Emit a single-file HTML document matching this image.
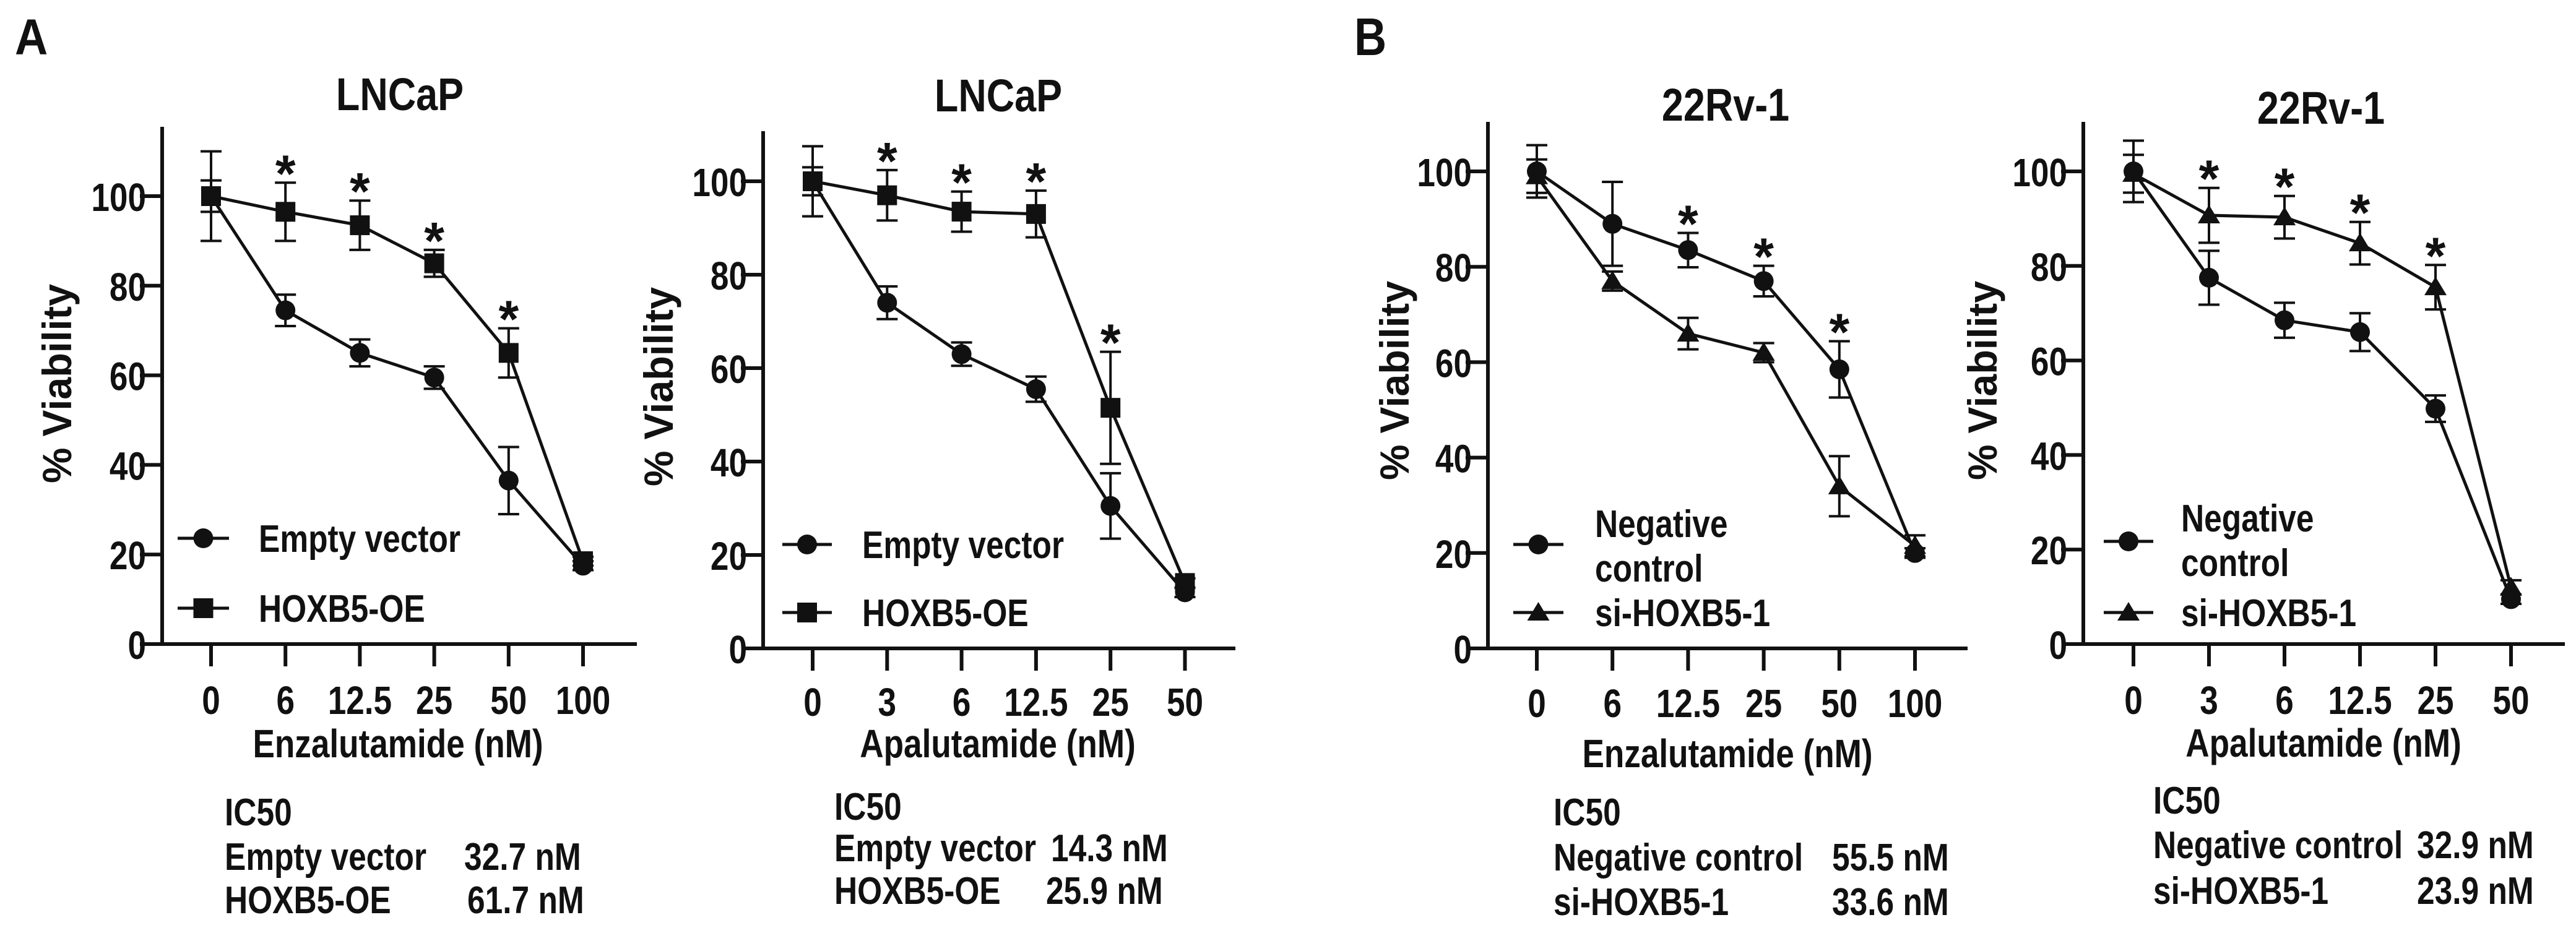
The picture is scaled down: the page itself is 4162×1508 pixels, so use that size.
<!DOCTYPE html>
<html><head><meta charset="utf-8"><style>
html,body{margin:0;padding:0;background:#fff;}
svg{display:block;}
text{font-family:"Liberation Sans",Arial,sans-serif;font-weight:bold;fill:#111;}
</style></head><body>
<svg id="fig" width="4162" height="1508" viewBox="0 0 4162 1508" xmlns="http://www.w3.org/2000/svg"></svg>
<script>
// ---- data ----
const p1Cats = ["0","6","12.5","25","50","100"];
const p1EV = [100,74.5,65,59.5,36.5,17.5];
const p1EVerr = [10,3.5,3,2.5,7.5,1];
const p1OE = [100,96.5,93.5,85,65,18.5];
const p1OEerr = [3.5,6.5,5.5,3,5.5,1];
const p1Stars = [false,true,true,true,true,false];

const p2Cats = ["0","3","6","12.5","25","50"];
const p2EV = [100,74,63,55.5,30.5,12];
const p2EVerr = [7.5,3.5,2.5,2.7,7,1];
const p2OE = [100,97,93.5,93,51.5,14];
const p2OEerr = [3,5.4,4.3,5,12,1];
const p2Stars = [false,true,true,true,true,false];

const p3Cats = ["0","6","12.5","25","50","100"];
const p3NC = [100,89,83.5,77,58.5,20];
const p3NCerr = [5.5,8.8,3.6,3.2,5.9,1];
const p3SI = [99,77,66,62,34,21.5];
const p3SIerr = [3.5,2,3.3,2,6.3,2.2];
const p3Stars = [false,false,true,true,true,false];

const p4Cats = ["0","3","6","12.5","25","50"];
const p4NC = [100,77.5,68.5,66,49.8,9.5];
const p4NCerr = [6.5,5.7,3.7,4,2.8,1];
const p4SI = [99.5,90.7,90.3,84.8,75.5,12];
const p4SIerr = [4,5.8,4.5,4.5,4.7,1.5];
const p4Stars = [false,true,true,true,true,false];

const yTicks = [0,20,40,60,80,100];

// ---- drawing ----
const NS="http://www.w3.org/2000/svg";
const svg=document.getElementById('fig');
function mk(tag,attrs,parent){const e=document.createElementNS(NS,tag);for(const k in attrs)e.setAttribute(k,attrs[k]);(parent||svg).appendChild(e);return e;}
function txt(str,x,y,size,anchor,parent,sx){
  const t=mk('text',{x:0,y:0,'font-size':size,'text-anchor':anchor||'start',transform:`translate(${x},${y}) scale(${sx||0.83},1)`},parent);
  t.textContent=str;return t;
}

function panel(cfg){
  const g=mk('g',{});
  
  
  const ys=v=>cfg.y0-(cfg.y0-cfg.y100)*v/100;
  const xs=i=>cfg.tick0+i*cfg.dx;
  const ya=mk('line',{x1:cfg.ax,y1:cfg.axTop,x2:cfg.ax,y2:cfg.y0+3,stroke:'#111','stroke-width':6},g);
  
  
  const xa=mk('line',{x1:cfg.xL,y1:cfg.y0,x2:cfg.xR,y2:cfg.y0,stroke:'#111','stroke-width':6},g);
  
  
  yTicks.forEach(v=>{
    const y=ys(v);
    if(v>0){mk('line',{x1:cfg.ax-36,y1:y,x2:cfg.ax,y2:y,stroke:'#111','stroke-width':6},g);}
    const t=txt(String(v),cfg.ax-26,y+24,64,'end',g);
    
    
  });
  cfg.cats.forEach((c,i)=>{
    const x=xs(i);
    mk('line',{x1:x,y1:cfg.y0,x2:x,y2:cfg.y0+36,stroke:'#111','stroke-width':6},g);
    const t=txt(c,x,cfg.tickY,64,'middle',g);
    
    
  });
  const tt=txt(cfg.title,cfg.titleX,cfg.titleY,74,'middle',g,0.85);
  
  
  const xt=txt(cfg.xTitle,cfg.xTitleX,cfg.xTitleY,64,'middle',g);
  
  
  const yt=mk('text',{x:0,y:0,'font-size':66,'text-anchor':'middle',textLength:322,lengthAdjust:'spacingAndGlyphs',transform:`translate(${cfg.yTitleX+24},${cfg.yTitleY}) rotate(-90)`},g);
  yt.textContent='% Viability';
  
  
  cfg.series.forEach(s=>{
    const sg=mk('g',{},g);
    
    
    s.vals.forEach((v,i)=>{
      const x=xs(i);
      const e=mk('path',{d:`M${x},${ys(v-s.err[i])}V${ys(v+s.err[i])}M${x-17},${ys(v-s.err[i])}H${x+17}M${x-17},${ys(v+s.err[i])}H${x+17}`,stroke:'#111','stroke-width':4,fill:'none'},sg);
      
      
    });
    const pl=mk('polyline',{points:s.vals.map((v,i)=>xs(i)+','+ys(v)).join(' '),fill:'none',stroke:'#111','stroke-width':5},sg);
    
    
    s.vals.forEach((v,i)=>{
      const m=marker(s.shape,xs(i),ys(v),sg);
      
      
    });
  });
  cfg.stars.forEach((st,i)=>{
    if(!st)return;
    const top=Math.max(...cfg.series.map(s=>s.vals[i]+s.err[i]));
    const t=txt('*',xs(i),ys(top)+14,84,'middle',g,1);
    
    
  });
  cfg.legend.forEach(L=>{
    const lg=mk('g',{},g);
    
    
    mk('line',{x1:cfg.legX,y1:L.y,x2:cfg.legX+cfg.legW,y2:L.y,stroke:'#111','stroke-width':5},lg);
    marker(L.shape,cfg.legX+cfg.legW/2,L.y,lg);
    L.lines.forEach((ln,k)=>txt(ln,cfg.legTX,L.ty+k*72,62,'start',lg));
  });
  const ic=mk('g',{},g);
  
  
  cfg.ic.forEach((r,k)=>{
    txt(r[0],cfg.icX,cfg.icY[k],62,'start',ic);
    if(r[1])txt(r[1],cfg.icVX[k],cfg.icY[k],62,'start',ic);
  });
}
function marker(shape,x,y,p){
  if(shape==='circle')return mk('circle',{cx:x,cy:y,r:16,fill:'#111'},p);
  if(shape==='square')return mk('rect',{x:x-16,y:y-16,width:32,height:32,fill:'#111'},p);
  return mk('path',{d:`M${x},${y-17}L${x+18},${y+13}L${x-18},${y+13}Z`,fill:'#111'},p);
}

const la=txt('A',24,88,82,'start',null,0.9);


const lb=txt('B',2188,89,85,'start',null,0.85);



panel({name:'lncap-enzalutamide-chart',ax:262,y0:1041,y100:317,axTop:205,xL:226,xR:1029,tick0:341,dx:120.2,tickY:1154,
  cats:p1Cats,title:'LNCaP',titleX:646,titleY:178,xTitle:'Enzalutamide (nM)',xTitleX:643,xTitleY:1224,
  yTitleX:91,yTitleY:620,
  series:[{key:'empty-vector',vals:p1EV,err:p1EVerr,shape:'circle'},{key:'hoxb5-oe',vals:p1OE,err:p1OEerr,shape:'square'}],
  stars:p1Stars,legX:287,legW:83,legTX:418,
  legend:[{y:870,ty:892,shape:'circle',lines:['Empty vector']},{y:983,ty:1005,shape:'square',lines:['HOXB5-OE']}],
  icX:363,icY:[1334,1406,1476],ic:[['IC50'],['Empty vector','32.7 nM'],['HOXB5-OE','61.7 nM']],icVX:[0,750,755]});
panel({name:'lncap-apalutamide-chart',ax:1233,y0:1048,y100:293,axTop:212,xL:1203,xR:1996,tick0:1313,dx:120.3,tickY:1157,
  cats:p2Cats,title:'LNCaP',titleX:1613,titleY:180,xTitle:'Apalutamide (nM)',xTitleX:1612,xTitleY:1224,
  yTitleX:1063,yTitleY:625,
  series:[{key:'empty-vector',vals:p2EV,err:p2EVerr,shape:'circle'},{key:'hoxb5-oe',vals:p2OE,err:p2OEerr,shape:'square'}],
  stars:p2Stars,legX:1264,legW:80,legTX:1393,
  legend:[{y:880,ty:902,shape:'circle',lines:['Empty vector']},{y:990,ty:1012,shape:'square',lines:['HOXB5-OE']}],
  icX:1348,icY:[1325,1392,1461],ic:[['IC50'],['Empty vector','14.3 nM'],['HOXB5-OE','25.9 nM']],icVX:[0,1698,1690]});
panel({name:'22rv1-enzalutamide-chart',ax:2404,y0:1048,y100:277,axTop:197,xL:2370,xR:3179,tick0:2483,dx:122.2,tickY:1159,
  cats:p3Cats,title:'22Rv-1',titleX:2788,titleY:195,xTitle:'Enzalutamide (nM)',xTitleX:2791,xTitleY:1240,
  yTitleX:2252,yTitleY:615,
  series:[{key:'negative-control',vals:p3NC,err:p3NCerr,shape:'circle'},{key:'si-hoxb5-1',vals:p3SI,err:p3SIerr,shape:'triangle'}],
  stars:p3Stars,legX:2445,legW:81,legTX:2577,
  legend:[{y:880,ty:868,shape:'circle',lines:['Negative','control']},{y:990,ty:1012,shape:'triangle',lines:['si-HOXB5-1']}],
  icX:2510,icY:[1334,1407,1479],ic:[['IC50'],['Negative control','55.5 nM'],['si-HOXB5-1','33.6 nM']],icVX:[0,2960,2960]});
panel({name:'22rv1-apalutamide-chart',ax:3366,y0:1041,y100:277,axTop:197,xL:3334,xR:4144,tick0:3447,dx:122,tickY:1154,
  cats:p4Cats,title:'22Rv-1',titleX:3750,titleY:200,xTitle:'Apalutamide (nM)',xTitleX:3754,xTitleY:1223,
  yTitleX:3202,yTitleY:615,
  series:[{key:'negative-control',vals:p4NC,err:p4NCerr,shape:'circle'},{key:'si-hoxb5-1',vals:p4SI,err:p4SIerr,shape:'triangle'}],
  stars:p4Stars,legX:3399,legW:80,legTX:3524,
  legend:[{y:875,ty:859,shape:'circle',lines:['Negative','control']},{y:990,ty:1012,shape:'triangle',lines:['si-HOXB5-1']}],
  icX:3479,icY:[1315,1387,1461],ic:[['IC50'],['Negative control','32.9 nM'],['si-HOXB5-1','23.9 nM']],icVX:[0,3905,3905]});
</script>
</body></html>
